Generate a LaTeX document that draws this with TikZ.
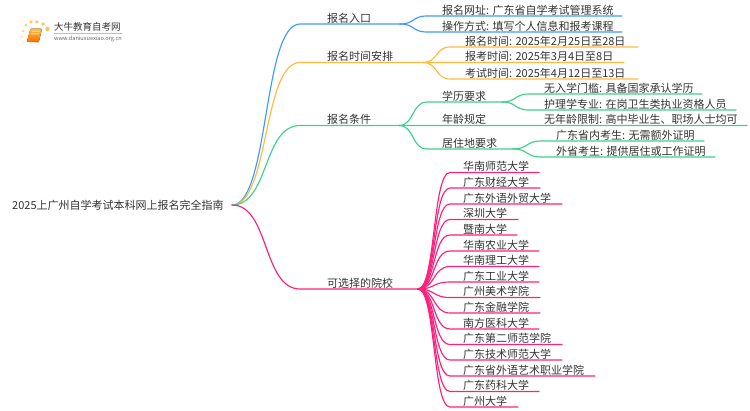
\documentclass[tikz,border=0pt]{standalone}
\usepackage{fontspec}
\setmainfont{Noto Sans CJK SC}
\usetikzlibrary{calc}
\definecolor{cblue}{HTML}{3D9BFF}
\definecolor{corange}{HTML}{FFB93D}
\definecolor{cgreen}{HTML}{3DD18C}
\definecolor{cpink}{HTML}{FF1F7D}
\definecolor{ctext}{HTML}{333333}
\tikzset{
  lbl/.style={anchor=west,inner sep=0pt,font=\fontsize{11}{12}\selectfont,text=ctext},
  conn/.style={line width=1.15pt,line cap=round},
}
% \leaf{name}{colour}{junction}{y}{end x}{text x}{curve end x}{text}
\newcommand{\leaf}[8]{%
  \node[lbl] (#1) at (#6,#4-6) {#8};
  \coordinate (#1a) at (#7,#4);
  \coordinate (#1b) at (#5,#4);
  \draw[conn,#2] (#3) .. controls ($(#3)!0.55!(#1a|-#3)$) and ($(#1a)!0.55!(#3|-#1a)$) .. (#1a) -- (#1b);
}
\begin{document}
\begin{tikzpicture}[x=1pt,y=-1pt]
\useasboundingbox (0,0) rectangle (750,410);
% logo
\foreach \px/\py/\pr/\po in {26/25/1.7/.7,31/22/1.8/.75,37/22/1.9/.8,43/24/1.9/.85,47.5/29/2.2/.9,23/31/1.5/.55,22/37/1.2/.4,23.5/42/1/.3}
  \fill[corange,opacity=\po] (\px,\py) circle (\pr);
\fill[top color=corange,bottom color=orange!90!red,rounded corners=1pt] (30.5,28.5) -- (42,28.5) -- (39,41.5) -- (27,41.5) -- cycle;
\fill[white!65!orange] (32,30.5) -- (40,30.5) -- (39.6,32.2) -- (31.6,32.2) -- cycle;
\fill[white!65!orange] (31.4,33.2) -- (39.3,33.2) -- (39,34.4) -- (31.1,34.4) -- cycle;
\draw[orange!85!red,line width=.8pt] (27,41.5) -- (39,42);
\node[inner sep=0pt,anchor=west,font=\fontsize{9.5}{10}\selectfont,text=ctext] (logot) at (54,27) {大牛教育自考网};
\draw[black!25,line width=.5pt] (54,33) -- (122,33);
\node[inner sep=0pt,anchor=west,font=\fontsize{5.6}{6}\selectfont,text=black!60] (logou) at (54,38.5) {www.daniuxuexiao.org.cn};
% root
\node[lbl] (root) at (12,205) {2025上广州自学考试本科网上报名完全指南};
\coordinate (r) at (232,205);
% level 1
\leaf{a}{cblue}{r}{24}{400}{327}{300}{报名入口}
\leaf{b}{corange}{r}{62.5}{423}{327}{300}{报名时间安排}
\leaf{c}{cgreen}{r}{125.5}{399}{327}{300}{报名条件}
\leaf{d}{cpink}{r}{289}{418}{327}{300}{可选择的院校}
\coordinate (J1) at (400,24);
\coordinate (J2) at (423,62.5);
\coordinate (J3) at (399,125.5);
\coordinate (J4) at (418,289);
% blue
\leaf{a1}{cblue}{J1}{16}{622}{442}{427}{报名网址: 广东省自学考试管理系统}
\leaf{a2}{cblue}{J1}{32}{622}{442}{427}{操作方式: 填写个人信息和报考课程}
% orange
\leaf{b1}{corange}{J2}{47}{638}{465}{450}{报名时间: 2025年2月25日至28日}
\leaf{b2}{corange}{J2}{62.5}{624}{465}{450}{报考时间: 2025年3月4日至8日}
\leaf{b3}{corange}{J2}{79}{638}{465}{450}{考试时间: 2025年4月12日至13日}
% green
\leaf{c1}{cgreen}{J3}{102}{502}{442}{427}{学历要求}
\leaf{c2}{cgreen}{J3}{125.5}{747}{442}{427}{年龄规定}
\leaf{c3}{cgreen}{J3}{149}{513}{442}{427}{居住地要求}
\coordinate (Jc1) at (502,102);
\coordinate (Jc3) at (513,149);
\leaf{c11}{cgreen}{Jc1}{94}{702}{544}{529}{无入学门槛: 具备国家承认学历}
\leaf{c12}{cgreen}{Jc1}{110}{736}{544}{529}{护理学专业: 在岗卫生类执业资格人员}
\node[lbl] (c21) at (544,119.5) {无年龄限制: 高中毕业生、职场人士均可};
\leaf{c31}{cgreen}{Jc3}{141}{704}{556}{541}{广东省内考生: 无需额外证明}
\leaf{c32}{cgreen}{Jc3}{157}{715}{556}{541}{外省考生: 提供居住或工作证明}
% pink
\leaf{d1}{cpink}{J4}{172.5}{539}{463}{450}{华南师范大学}
\leaf{d2}{cpink}{J4}{188}{540}{463}{450}{广东财经大学}
\leaf{d3}{cpink}{J4}{204}{562}{463}{450}{广东外语外贸大学}
\leaf{d4}{cpink}{J4}{219.5}{518}{463}{450}{深圳大学}
\leaf{d5}{cpink}{J4}{235}{517}{463}{450}{暨南大学}
\leaf{d6}{cpink}{J4}{251}{539}{463}{450}{华南农业大学}
\leaf{d7}{cpink}{J4}{266.5}{539}{463}{450}{华南理工大学}
\leaf{d8}{cpink}{J4}{282}{539}{463}{450}{广东工业大学}
\leaf{d9}{cpink}{J4}{297.5}{540}{463}{450}{广州美术学院}
\leaf{d10}{cpink}{J4}{313}{540}{463}{450}{广东金融学院}
\leaf{d11}{cpink}{J4}{329}{539}{463}{450}{南方医科大学}
\leaf{d12}{cpink}{J4}{344.5}{562}{463}{450}{广东第二师范学院}
\leaf{d13}{cpink}{J4}{360}{562}{463}{450}{广东技术师范大学}
\leaf{d14}{cpink}{J4}{376}{595}{463}{450}{广东省外语艺术职业学院}
\leaf{d15}{cpink}{J4}{391.5}{539}{463}{450}{广东药科大学}
\leaf{d16}{cpink}{J4}{407}{518}{463}{450}{广州大学}
\end{tikzpicture}
\end{document}
